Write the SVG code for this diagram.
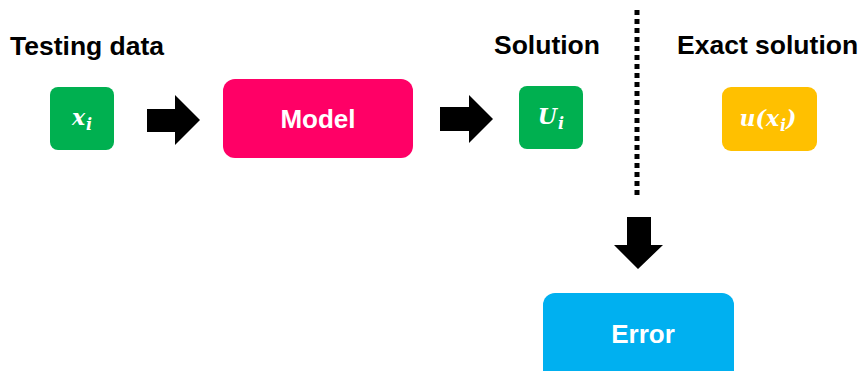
<svg xmlns="http://www.w3.org/2000/svg" width="863" height="371" viewBox="0 0 863 371">
  <style>
    .title { font-family: "Liberation Sans", Arial, sans-serif; font-weight: bold; font-size: 26.5px; fill: #000; }
    .label { font-family: "Liberation Sans", Arial, sans-serif; font-weight: bold; font-size: 26px; fill: #fff; text-anchor: middle; }
    .math { font-family: "DejaVu Serif", "Liberation Serif", serif; font-style: italic; font-weight: bold; font-size: 22px; fill: #fff; text-anchor: middle; }
    .sub { font-size: 16px; }
    .arrow { fill: #000; }
  </style>
  <rect width="863" height="371" fill="#fff"/>

  <!-- section headings -->
  <text class="title" x="10" y="55">Testing data</text>
  <text class="title" x="494" y="54">Solution</text>
  <text class="title" x="677" y="54">Exact solution</text>

  <g id="node-xi">
    <rect x="50" y="87" width="64" height="63" rx="8" fill="#00B050"/>
    <text class="math" x="82" y="125">x<tspan class="sub" dx="1" dy="5">i</tspan></text>
  </g>

  <g id="node-model">
    <rect x="223" y="79" width="190" height="79" rx="12" fill="#FF0066"/>
    <text class="label" x="318" y="128">Model</text>
  </g>

  <g id="node-ui">
    <rect x="519" y="86" width="64" height="63" rx="8" fill="#00B050"/>
    <text class="math" x="551" y="124">U<tspan class="sub" dx="1" dy="5">i</tspan></text>
  </g>

  <g id="node-exact">
    <rect x="722" y="87" width="95" height="64" rx="9" fill="#FFC000"/>
    <text class="math" x="768" y="126">u(x<tspan class="sub" dx="1" dy="5">i</tspan><tspan dy="-5">)</tspan></text>
  </g>

  <g id="node-error">
    <rect x="543" y="293" width="191" height="95" rx="12" fill="#00B0F0"/>
    <text class="label" x="643" y="343">Error</text>
  </g>

  <g id="connectors">
    <!-- block arrows -->
    <polygon class="arrow" points="147,109 175,109 175,95 200,120 175,145 175,132 147,132"/>
    <polygon class="arrow" points="440,107 469,107 469,95 493,119 469,143 469,131 440,131"/>
    <polygon class="arrow" points="627,217 651,217 651,245 663,245 638,269 614,245 627,245"/>
    <!-- dotted divider -->
    <line x1="637" y1="10" x2="637" y2="198" stroke="#000" stroke-width="5" stroke-dasharray="5 4"/>
  </g>
</svg>
